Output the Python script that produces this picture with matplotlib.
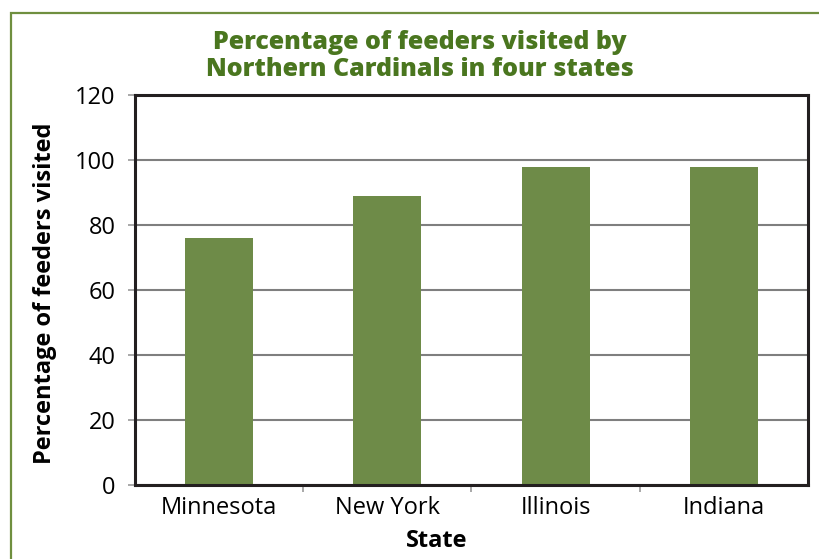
import matplotlib
matplotlib.use("Agg")
import matplotlib.pyplot as plt
from matplotlib.patches import Rectangle

states = ["Minnesota", "New York", "Illinois", "Indiana"]
pct_visited = [76, 89, 98, 98]
y_ticks = [0, 20, 40, 60, 80, 100, 120]

bar_color = "#6e8b48"
title_color = "#4a761f"
border_color = "#6f8f3f"

plt.rcParams['font.family'] = ['Open Sans', 'DejaVu Sans']

fig = plt.figure(figsize=(8.2, 5.59), dpi=100)
W, H = 820, 559

# frame round the whole figure
fig.patches.append(Rectangle((11 / W, -0.05), 1.2, 1 - 13 / H + 0.05, transform=fig.transFigure,
                             fill=False, edgecolor=border_color, linewidth=1.6))

ax = fig.add_axes([135 / W, 1 - 485 / H, (808 - 135) / W, (485 - 95) / H])
x = range(len(states))
ax.bar(x, pct_visited, width=0.405, color=bar_color, zorder=3)

ax.set_xlim(-0.5, len(states) - 0.5)
ax.set_ylim(0, 120)
ax.set_yticks(y_ticks)
ax.set_yticklabels([str(v) for v in y_ticks], fontsize=17)
ax.yaxis.grid(True, color="#7f7f7f", linewidth=1.5, zorder=0)

# category labels between boundary ticks
ax.set_xticks([i + 0.5 for i in range(len(states) - 1)])
ax.set_xticklabels([])
ax.set_xticks(list(x), minor=True)
ax.set_xticklabels(states, minor=True, fontsize=17)
ax.tick_params(axis="x", which="minor", length=0, pad=8)
ax.tick_params(axis="x", which="major", length=5, width=1.2, color="#999999")
ax.tick_params(axis="y", length=5, width=1.2, color="#999999", pad=9)

for s in ax.spines.values():
    s.set_linewidth(2.2)
    s.set_color("#231f20")
    s.set_zorder(5)

fig.text(420 / W, 1 - 56 / H, "Percentage of feeders visited by\nNorthern Cardinals in four states",
         ha="center", va="center", fontsize=18, fontweight=800, color=title_color,
         linespacing=1.15)
fig.text(437 / W, 1 - 541 / H, "State", ha="center", va="center", fontsize=17, fontweight="bold")
fig.text(45 / W, 1 - 293 / H, "Percentage of feeders visited", ha="center", va="center",
         rotation=90, fontsize=17, fontweight="bold")

fig.savefig("out.png", dpi=100)
